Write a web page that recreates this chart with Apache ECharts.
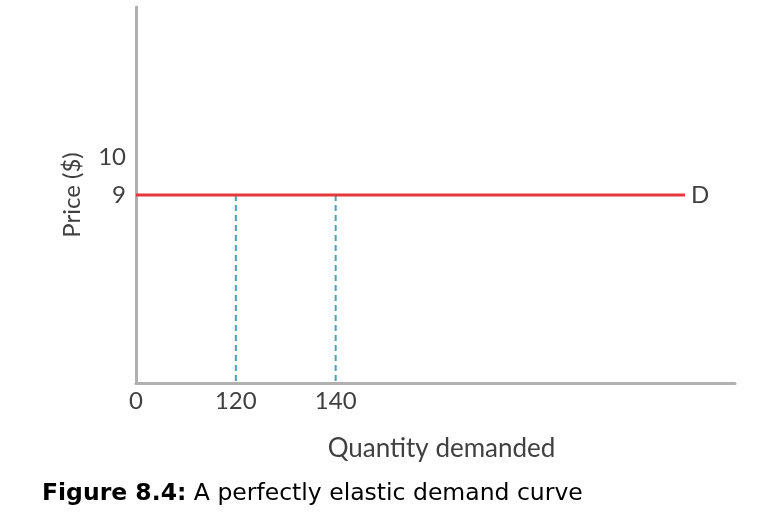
<!DOCTYPE html>
<html>
<head>
<meta charset="utf-8">
<script src="https://cdn.jsdelivr.net/npm/echarts@6/dist/echarts.min.js"></script>
<style>html,body{margin:0;padding:0;background:#fff}#c{width:768px;height:525px}</style>
</head>
<body>
<div id="c"></div>
<script>
// Schematic (not-to-scale) axes, so categories are used
const xCategories = ['0', '', '120', '', '140', '', '', '', '', '', '', '', ''];
const yCategories = ['0', '', '', '', '', '9', '10', '', '', '', ''];
const xTickLabels = ['0', '120', '140'];
const yTickLabels = ['9', '10'];
const price = '9';
const quantities = ['120', '140'];
const demandEnd = 11; // index of last category the demand curve reaches
const curveLabel = 'D';

const chart = echarts.init(document.getElementById('c'));
const yIdx = yCategories.indexOf(price);
const labelFont = 'Lato, "Open Sans", sans-serif';

const series = [{
  type: 'line',
  data: [[0, yIdx], [demandEnd, yIdx]],
  symbol: 'none',
  lineStyle: { color: '#e5383b', width: 3 },
  endLabel: { show: true, formatter: curveLabel, color: '#404040', fontSize: 24, fontFamily: labelFont, distance: 6 },
  z: 3,
  silent: true
}];
quantities.forEach(q => {
  const xi = xCategories.indexOf(q);
  series.push({
    type: 'line',
    data: [[xi, yIdx], [xi, 0]],
    symbol: 'none',
    lineStyle: { color: '#4aa3b5', width: 2, type: [6, 4] },
    z: 2,
    silent: true
  });
});

chart.setOption({
  animation: false,
  backgroundColor: '#fff',
  grid: { left: 136, right: 33, top: 7, bottom: 142 },
  xAxis: {
    type: 'category',
    data: xCategories,
    boundaryGap: false,
    axisLine: { lineStyle: { color: '#b0b0b0', width: 3 } },
    axisTick: { show: false },
    splitLine: { show: false },
    axisLabel: {
      interval: 0,
      margin: 6,
      fontSize: 24,
      color: '#404040',
      fontFamily: labelFont,
      formatter: v => xTickLabels.includes(v) ? v : ''
    },
    name: 'Quantity demanded',
    nameLocation: 'middle',
    nameGap: 53,
    nameTextStyle: { fontSize: 26, color: '#404040', fontFamily: labelFont, padding: [0, 0, 0, 12] }
  },
  yAxis: {
    type: 'category',
    data: yCategories,
    boundaryGap: false,
    axisLine: { lineStyle: { color: '#b0b0b0', width: 3 } },
    axisTick: { show: false },
    splitLine: { show: false },
    axisLabel: {
      interval: 0,
      margin: 10,
      fontSize: 24,
      color: '#404040',
      fontFamily: labelFont,
      formatter: v => yTickLabels.includes(v) ? v : ''
    },
    name: 'Price ($)',
    nameLocation: 'middle',
    nameGap: 52,
    nameTextStyle: { fontSize: 24, color: '#404040', fontFamily: labelFont }
  },
  graphic: [{
    type: 'text',
    left: 42,
    top: 482,
    style: {
      text: '{b|Figure 8.4:} A perfectly elastic demand curve',
      rich: {
        b: { fontWeight: 'bold', fontSize: 23.5, fontFamily: '"DejaVu Sans", sans-serif', fill: '#000' }
      },
      fontSize: 23.5,
      fontFamily: '"DejaVu Sans", sans-serif',
      fill: '#000'
    }
  }],
  series: series
});
</script>
</body>
</html>
